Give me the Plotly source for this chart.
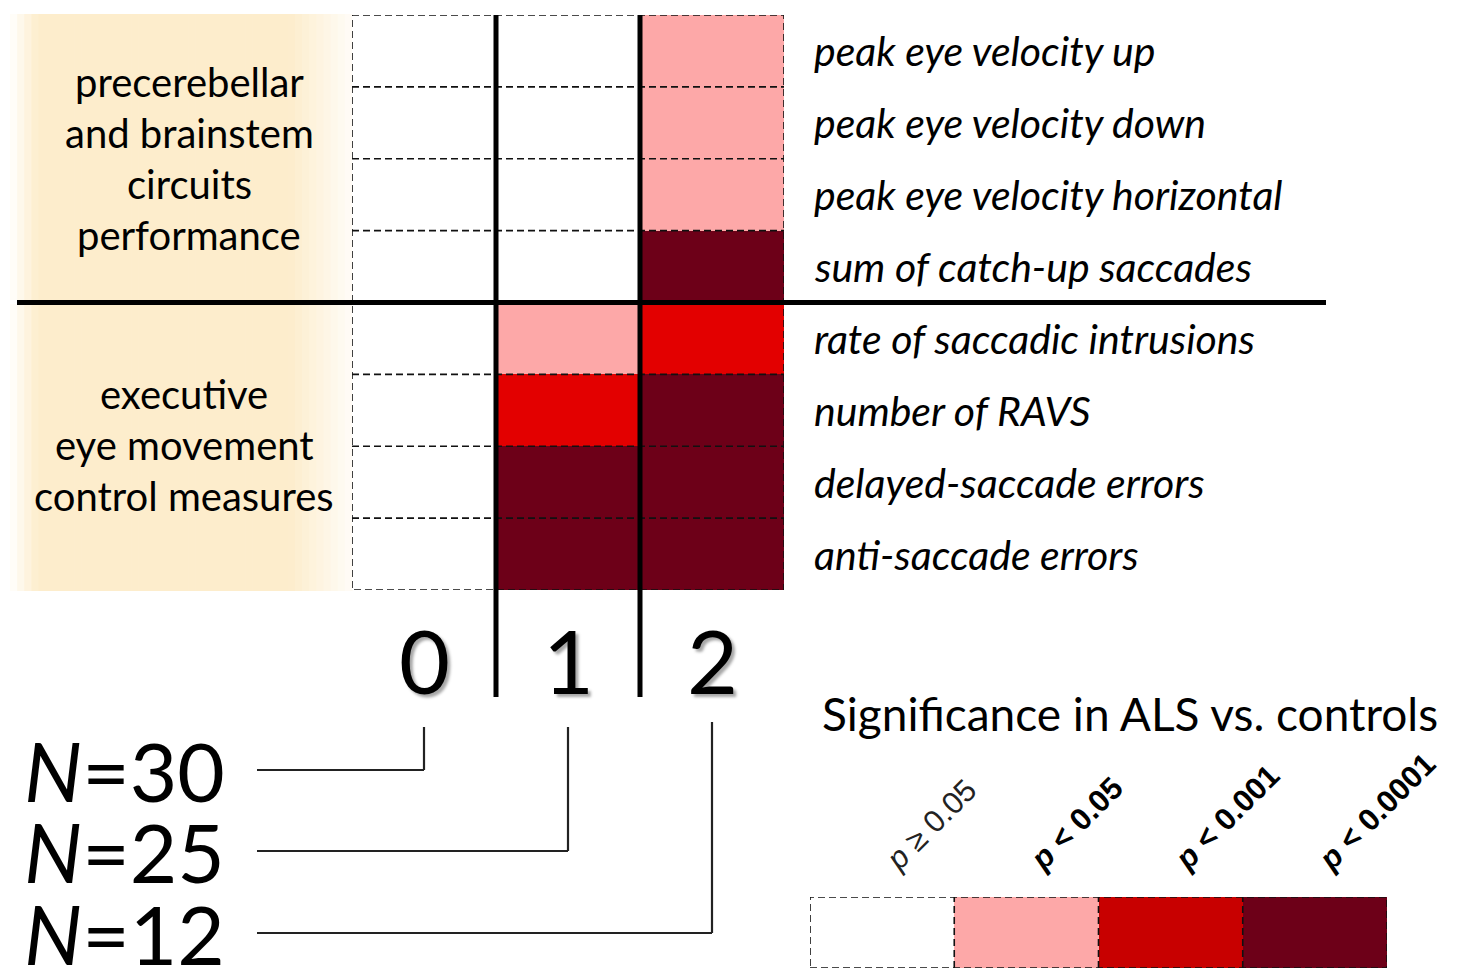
import plotly.graph_objects as go

W, H = 1460, 969

# ---------------- data ----------------
groups = ["0", "1", "2"]
group_n = ["30", "25", "12"]
measures = [
    "peak eye velocity up",
    "peak eye velocity down",
    "peak eye velocity horizontal",
    "sum of catch-up saccades",
    "rate of saccadic intrusions",
    "number of RAVS",
    "delayed-saccade errors",
    "anti-saccade errors",
]
# significance level per measure (rows) and group (columns):
# 0: p>=0.05, 1: p<0.05, 2: p<0.001, 3: p<0.0001
sig_group0 = [0, 0, 0, 0, 0, 0, 0, 0]
sig_group1 = [0, 0, 0, 0, 1, 2, 3, 3]
sig_group2 = [1, 1, 1, 3, 2, 3, 3, 3]
sig_levels = [0, 1, 2, 3]
sig_labels = ["<i>p</i> ≥ 0.05", "<b><i>p</i> < 0.05</b>", "<b><i>p</i> < 0.001</b>", "<b><i>p</i> < 0.0001</b>"]
block_titles = [
    ["precerebellar", "and brainstem", "circuits", "performance"],
    ["executive", "eye movement", "control measures"],
]

# ---------------- styles ----------------
WHITE = "#ffffff"
PINK = "#fda8a8"
RED = "#e30000"
RED_LEG = "#c80000"
DARK = "#6d0018"
BEIGE = (253, 237, 204)
TXT = "Lato"


def px(x):
    return x / W


def py(y):
    return 1 - y / H


def discrete_scale(cols):
    n = len(cols)
    cs = []
    for i, c in enumerate(cols):
        cs.append([i / n, c])
        cs.append([(i + 1) / n, c])
    return cs


z = [[sig_group0[i], sig_group1[i], sig_group2[i]] for i in range(len(measures))]

fig = go.Figure()
fig.add_trace(go.Heatmap(
    z=z, x=[0, 1, 2], y=list(range(len(measures))),
    colorscale=discrete_scale([WHITE, PINK, RED, DARK]),
    zmin=-0.5, zmax=3.5, showscale=False, hoverinfo="skip",
    xaxis="x", yaxis="y",
))
fig.add_trace(go.Heatmap(
    z=[sig_levels], x=sig_levels, y=[0],
    colorscale=discrete_scale([WHITE, PINK, RED_LEG, DARK]),
    zmin=-0.5, zmax=3.5, showscale=False, hoverinfo="skip",
    xaxis="x2", yaxis="y2",
))

shapes = []
annotations = []

# beige background blocks with soft edges
def beige_block(x0, x1, y0, y1):
    n = 48
    for k in range(n):
        a = x0 + (x1 - x0) * k / n
        b = x0 + (x1 - x0) * (k + 1) / n
        t = (k + 0.5) / n
        if t < 0.08:
            f = t / 0.08
        elif t > 0.82:
            f = max(0.0, 1 - (t - 0.82) / 0.18 * 0.85)
        else:
            f = 1.0
        col = tuple(round(255 + (c - 255) * f) for c in BEIGE)
        shapes.append(dict(type="rect", xref="paper", yref="paper",
                           x0=px(a), x1=px(b) + 0.0005, y0=py(y1), y1=py(y0),
                           fillcolor="rgb(%d,%d,%d)" % col, line=dict(width=0), layer="below"))

beige_block(10, 352, 14, 300)
beige_block(10, 352, 304, 591)

# dashed grid (in heatmap coordinates)
DASH = dict(color="#111111", width=1.6, dash="7px,4px")
for r in range(1, len(measures)):
    if r == 4:
        continue
    shapes.append(dict(type="line", xref="x", yref="y", x0=-0.5, x1=2.5, y0=r - 0.5, y1=r - 0.5, line=DASH))
shapes.append(dict(type="rect", xref="x", yref="y", x0=-0.5, x1=2.5, y0=-0.5, y1=len(measures) - 0.5, line=DASH))

# thick separators
for c in (0.5, 1.5):
    shapes.append(dict(type="line", xref="x", yref="paper", x0=c, x1=c, y0=py(697), y1=py(15),
                       line=dict(color="black", width=5)))
shapes.append(dict(type="line", xref="paper", yref="y", x0=px(17), x1=px(1326), y0=3.5, y1=3.5,
                   line=dict(color="black", width=5)))

# block titles
line_gap = 51
for lines, yc, xc in ((block_titles[0], 158.5, 189), (block_titles[1], 445, 184)):
    n = len(lines)
    for i, t in enumerate(lines):
        yy = yc + (i - (n - 1) / 2) * line_gap
        annotations.append(dict(x=px(xc), y=py(yy), xref="paper", yref="paper", text=t, showarrow=False,
                                font=dict(family=TXT, size=40, color="black"), xanchor="center", yanchor="middle"))

# measure labels
for i, m in enumerate(measures):
    annotations.append(dict(x=px(812), y=i, xref="paper", yref="y", text="<i>%s</i>" % m, showarrow=False,
                            font=dict(family=TXT, size=41, color="black"), xanchor="left", yanchor="middle"))

# group digits (with soft shadow)
for gi, g in enumerate(groups):
    annotations.append(dict(x=gi, y=py(660), xref="x", yref="paper", text=g, showarrow=False,
                            font=dict(family=TXT, size=88, color="black",
                                      shadow="3px 3px 3px rgba(0,0,0,0.35)"),
                            xanchor="center", yanchor="middle"))

# N labels and connectors
n_y = [770, 851, 933]
n_top = [727, 727, 722]
for gi, nn in enumerate(group_n):
    annotations.append(dict(x=px(22), y=py(n_y[gi]), xref="paper", yref="paper",
                            text="<i>N</i>=%s" % nn, showarrow=False,
                            font=dict(family=TXT, size=82, color="black"), xanchor="left", yanchor="middle"))
    shapes.append(dict(type="path", xref="paper", yref="paper",
                       path="M %f,%f H %f" % (px(257), py(n_y[gi]), px(352 + 144 * gi + 72)),
                       line=dict(color="#222222", width=2.2)))
    shapes.append(dict(type="line", xref="x", yref="paper", x0=gi, x1=gi, y0=py(n_y[gi]), y1=py(n_top[gi]),
                       line=dict(color="#222222", width=2.2)))

# legend title
annotations.append(dict(x=px(1130), y=py(713), xref="paper", yref="paper", text="Significance in ALS vs. controls",
                        showarrow=False, font=dict(family=TXT, size=46, color="black"),
                        xanchor="center", yanchor="middle"))

# legend borders
LDASH = dict(color="#111111", width=1.6, dash="7px,4px")
for c in (0.5, 1.5, 2.5):
    shapes.append(dict(type="line", xref="x2", yref="y2", x0=c, x1=c, y0=-0.5, y1=0.5, line=LDASH))
shapes.append(dict(type="rect", xref="x2", yref="y2", x0=-0.5, x1=3.5, y0=-0.5, y1=0.5, line=LDASH))

# legend labels (rotated)
for li, lab in enumerate(sig_labels):
    annotations.append(dict(x=sig_levels[li] - 0.04, y=py(880), xref="x2", yref="paper", text=lab,
                            showarrow=False, textangle=-45,
                            font=dict(family="Liberation Sans Narrow, Liberation Sans", size=31,
                                      color="#222222" if li == 0 else "black"),
                            xanchor="left", yanchor="bottom"))

fig.update_layout(
    width=W, height=H, margin=dict(l=0, r=0, t=0, b=0),
    paper_bgcolor="white", plot_bgcolor="rgba(0,0,0,0)",
    showlegend=False,
    xaxis=dict(domain=[px(352), px(784)], range=[-0.5, 2.5], visible=False, fixedrange=True),
    yaxis=dict(domain=[py(590), py(15)], range=[len(measures) - 0.5, -0.5], visible=False, fixedrange=True),
    xaxis2=dict(domain=[px(810), px(1387)], range=[-0.5, 3.5], visible=False, fixedrange=True, anchor="y2"),
    yaxis2=dict(domain=[py(968), py(897)], range=[-0.5, 0.5], visible=False, fixedrange=True, anchor="x2"),
    shapes=shapes, annotations=annotations,
)

fig.write_html("out.html", config={"displayModeBar": False},
               post_script="document.body.style.margin='0';document.body.style.overflow='hidden';")
